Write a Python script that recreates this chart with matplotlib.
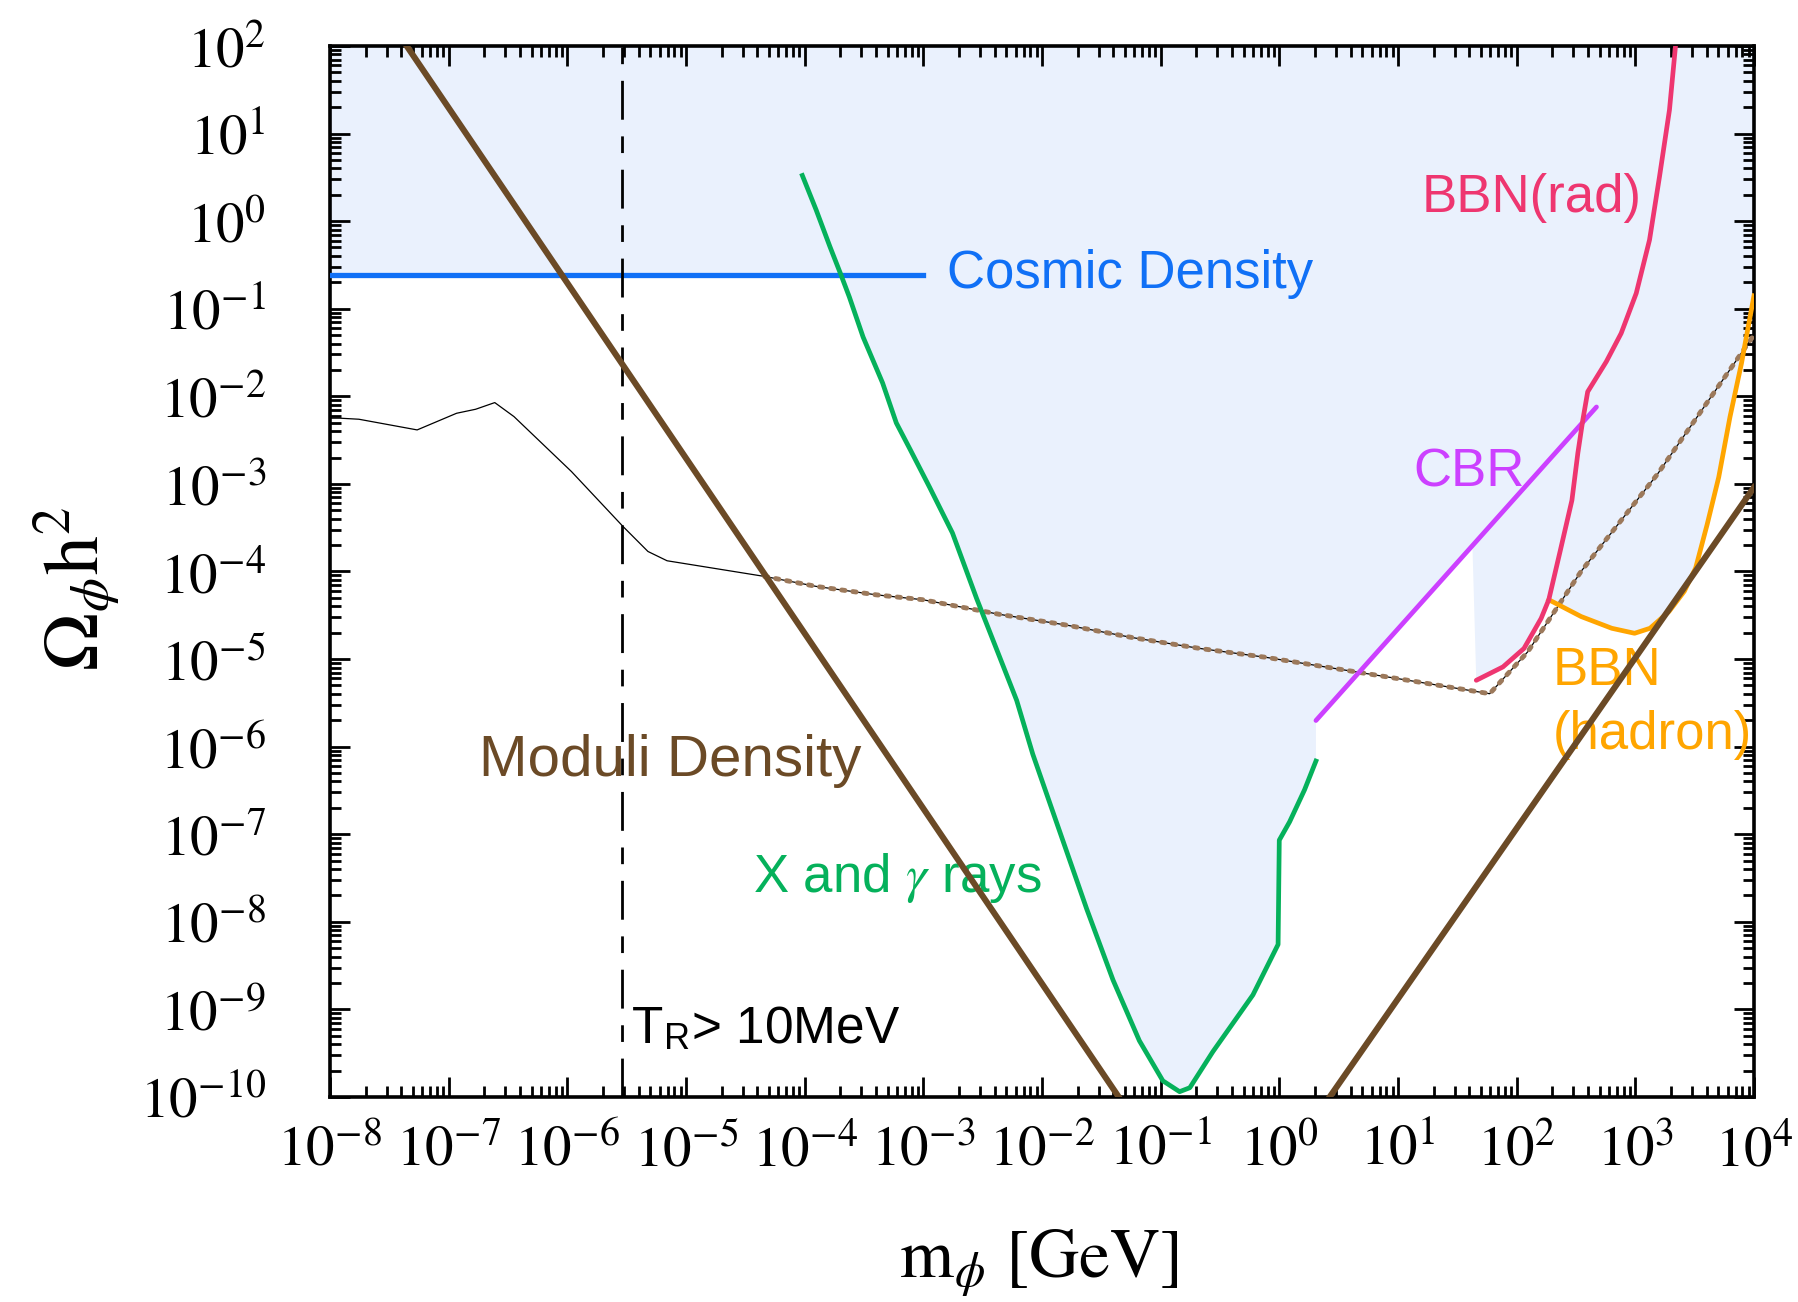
import numpy as np
import matplotlib
matplotlib.use('Agg')
import matplotlib.pyplot as plt
from matplotlib.ticker import LogLocator, FuncFormatter, NullFormatter
from matplotlib.patches import Polygon

plt.rcParams['mathtext.fontset'] = 'stix'
plt.rcParams['font.family'] = ['Liberation Sans', 'DejaVu Sans']

# all curves stored as log10(m_phi / GeV), log10(Omega_phi h^2)

# cosmic density bound
cosmic_logm = [-8.0, -3.0]
cosmic_logomega = [-0.62, -0.62]

# reheating temperature bound T_R > 10 MeV
treh_logm = -5.536

# moduli density, two branches
moduli_lo_logm = [-7.353, -1.353]
moduli_lo_logomega = [2.0, -10.0]
moduli_hi_logm = [0.425, 4.0]
moduli_hi_logomega = [-10.0, -3.04]

# thin black curve (low mass part of the moduli abundance)
thin_logm = [-8.0, -7.916, -7.756, -7.265, -6.933, -6.772, -6.611, -6.449,
             -5.965, -5.530, -5.320, -5.159, -4.337]
thin_logomega = [-2.250, -2.250, -2.262, -2.384, -2.194, -2.148, -2.072, -2.232,
                 -2.859, -3.487, -3.772, -3.878, -4.057]

# dotted moduli abundance curve
dot_logm = [-4.337, -3.901, -3.396, -3.003, -2.357, -1.795, -1.234, -0.671,
            -0.110, 0.451, 1.014, 1.773, 2.094, 2.544, 3.188, 4.0]
dot_logomega = [-4.057, -4.171, -4.267, -4.323, -4.490, -4.612, -4.756, -4.879,
                -4.981, -5.104, -5.227, -5.396, -4.917, -3.998, -2.887, -1.30]

# X and gamma ray bound
xray_logm = [-4.019, -3.903, -3.787, -3.700, -3.623, -3.507, -3.343, -3.227,
             -3.111, -2.947, -2.754, -2.551, -2.357, -2.213, -2.077, -1.855,
             -1.623, -1.401, -1.179, -0.981, -0.840, -0.754, -0.560, -0.222,
             -0.010, 0.0, 0.087, 0.213, 0.309]
xray_logomega = [0.521, 0.129, -0.290, -0.591, -0.866, -1.324, -1.847, -2.305,
                 -2.606, -3.038, -3.561, -4.307, -4.975, -5.472, -6.087, -6.951,
                 -7.853, -8.665, -9.358, -9.816, -9.94, -9.895, -9.484, -8.835,
                 -8.259, -7.068, -6.859, -6.493, -6.165]

# CBR distortion bound
cbr_logm = [0.309, 2.673]
cbr_logomega = [-5.702, -2.122]

# BBN radiative bound
bbnrad_logm = [1.660, 1.885, 2.062, 2.207, 2.271, 2.367, 2.466, 2.516, 2.558,
               2.599, 2.756, 2.881, 3.008, 3.120, 3.204, 3.288, 3.339]
bbnrad_logomega = [-5.243, -5.090, -4.879, -4.535, -4.323, -3.768, -3.188, -2.649,
                   -2.270, -1.948, -1.604, -1.281, -0.824, -0.215, 0.507, 1.269, 2.0]

# BBN hadronic bound
bbnhad_logm = [2.271, 2.544, 2.802, 2.994, 3.124, 3.284, 3.413, 3.509, 3.606,
               3.703, 3.798, 3.895, 4.0]
bbnhad_logomega = [-4.323, -4.515, -4.649, -4.706, -4.649, -4.458, -4.227, -3.959,
                   -3.462, -2.925, -2.236, -1.623, -0.853]

# corner of the excluded region between the CBR line and BBN(rad)
notch_logm = [1.628, 1.660]
notch_logomega = [-3.72, -5.243]

c_shade = '#EAF1FD'
c_blue = '#1070F6'
c_green = '#05B15B'
c_brown = '#6B4A26'
c_dot = '#9C795B'
c_red = '#EE3670'
c_mag = '#CC40FF'
c_orange = '#FFA500'


def pw(a):
    return 10.0 ** np.asarray(a, dtype=float)


fig = plt.figure(figsize=(17.98, 13.02), dpi=100)
ax = fig.add_axes([0.1835, 0.1575, 0.792, 0.8072])
ax.set_xscale('log')
ax.set_yscale('log')
ax.set_xlim(1e-8, 1e4)
ax.set_ylim(1e-10, 1e2)

# --- excluded region ---
xr_lm = np.array(xray_logm)
xr_lo = np.array(xray_logomega)
cut = np.argmax(xr_lo < cosmic_logomega[0])
m_cross = np.interp(cosmic_logomega[0], xr_lo[cut - 1:cut + 1][::-1], xr_lm[cut - 1:cut + 1][::-1])
had_start = 4  # BBN(rad) index where the hadronic curve branches off
poly_lm = ([-8.0, -8.0, m_cross] + list(xr_lm[cut:]) + cbr_logm[:1] + notch_logm
           + bbnrad_logm[1:had_start + 1] + bbnhad_logm[1:] + [4.0])
poly_lo = ([2.0, cosmic_logomega[0], cosmic_logomega[0]] + list(xr_lo[cut:]) + cbr_logomega[:1]
           + notch_logomega + bbnrad_logomega[1:had_start + 1] + bbnhad_logomega[1:] + [2.0])
ax.add_patch(Polygon(np.column_stack([pw(poly_lm), pw(poly_lo)]), closed=True,
                     facecolor=c_shade, edgecolor='none', zorder=0))

# --- curves ---
ax.plot(pw(thin_logm), pw(thin_logomega), color='k', lw=0.9, zorder=2)
ax.plot(pw(dot_logm), pw(dot_logomega), color='k', lw=0.9, zorder=2)
ax.plot(pw(dot_logm), pw(dot_logomega), color=c_dot, lw=3.5,
        linestyle=(0, (0.7, 1.6)), dash_capstyle='round', zorder=3)

ax.plot(pw(cosmic_logm), pw(cosmic_logomega), color=c_blue, lw=3.8, zorder=4)
ax.axvline(10 ** treh_logm, color='k', lw=2.0, linestyle=(0, (14, 6, 6, 6)), zorder=4)

ax.plot(pw(xray_logm), pw(xray_logomega), color=c_green, lw=3.4, zorder=5)
ax.plot(pw(cbr_logm), pw(cbr_logomega), color=c_mag, lw=3.4, solid_capstyle='round', zorder=5)
ax.plot(pw(bbnhad_logm), pw(bbnhad_logomega), color=c_orange, lw=3.4, zorder=5)
ax.plot(pw(bbnrad_logm), pw(bbnrad_logomega), color=c_red, lw=3.4, solid_capstyle='round', zorder=6)

ax.plot(pw(moduli_lo_logm), pw(moduli_lo_logomega), color=c_brown, lw=4.4, zorder=7)
ax.plot(pw(moduli_hi_logm), pw(moduli_hi_logomega), color=c_brown, lw=4.4, zorder=7)

# --- labels on the curves ---
ax.text(10 ** -2.802, 10 ** -0.761, 'Cosmic Density', color=c_blue, fontsize=38,
        ha='left', va='baseline')
ax.text(10 ** 1.196, 10 ** 0.103, 'BBN(rad)', color=c_red, fontsize=38,
        ha='left', va='baseline')
ax.text(10 ** 1.128, 10 ** -3.025, 'CBR', color=c_mag, fontsize=38,
        ha='left', va='baseline')
ax.text(10 ** 2.302, 10 ** -5.300, 'BBN', color=c_orange, fontsize=38,
        ha='left', va='baseline')
ax.text(10 ** 2.302, 10 ** -6.027, '(hadron)', color=c_orange, fontsize=38,
        ha='left', va='baseline')
ax.text(10 ** -6.747, 10 ** -6.332, 'Moduli Density', color=c_brown, fontsize=42,
        ha='left', va='baseline')
ax.text(10 ** -4.433, 10 ** -7.664, r'X and $\gamma$ rays', color=c_green, fontsize=38,
        ha='left', va='baseline')
ax.text(10 ** -5.462, 10 ** -9.384, r'T$_\mathregular{R}$> 10MeV', color='k', fontsize=37,
        ha='left', va='baseline')

# --- axes styling ---
for s in ax.spines.values():
    s.set_linewidth(2.6)

ax.xaxis.set_major_locator(LogLocator(base=10, numticks=20))
ax.yaxis.set_major_locator(LogLocator(base=10, numticks=20))
ax.xaxis.set_minor_locator(LogLocator(base=10, subs=np.arange(2, 10), numticks=200))
ax.yaxis.set_minor_locator(LogLocator(base=10, subs=np.arange(2, 10), numticks=200))
ax.xaxis.set_minor_formatter(NullFormatter())
ax.yaxis.set_minor_formatter(NullFormatter())
fmt = FuncFormatter(lambda v, p: r'$10^{%d}$' % int(round(np.log10(v))))
ax.xaxis.set_major_formatter(fmt)
ax.yaxis.set_major_formatter(fmt)

ax.tick_params(which='both', direction='in', top=True, right=True, width=2.0)
ax.tick_params(which='major', length=14.4, labelsize=41)
ax.tick_params(which='minor', length=7.7)
ax.tick_params(axis='x', which='major', pad=19)
ax.tick_params(axis='y', which='major', pad=46)

fig.text(0.578, 0.0184, r'$\mathrm{m}_{\phi}$ [GeV]', fontsize=50, family='STIXGeneral',
         ha='center', va='baseline')
fig.text(0.068, 0.5476, r'$\Omega_{\phi}\mathrm{h}^{2}$', fontsize=56, rotation=90,
         ha='right', va='center')

fig.savefig('out.png', dpi=100)
